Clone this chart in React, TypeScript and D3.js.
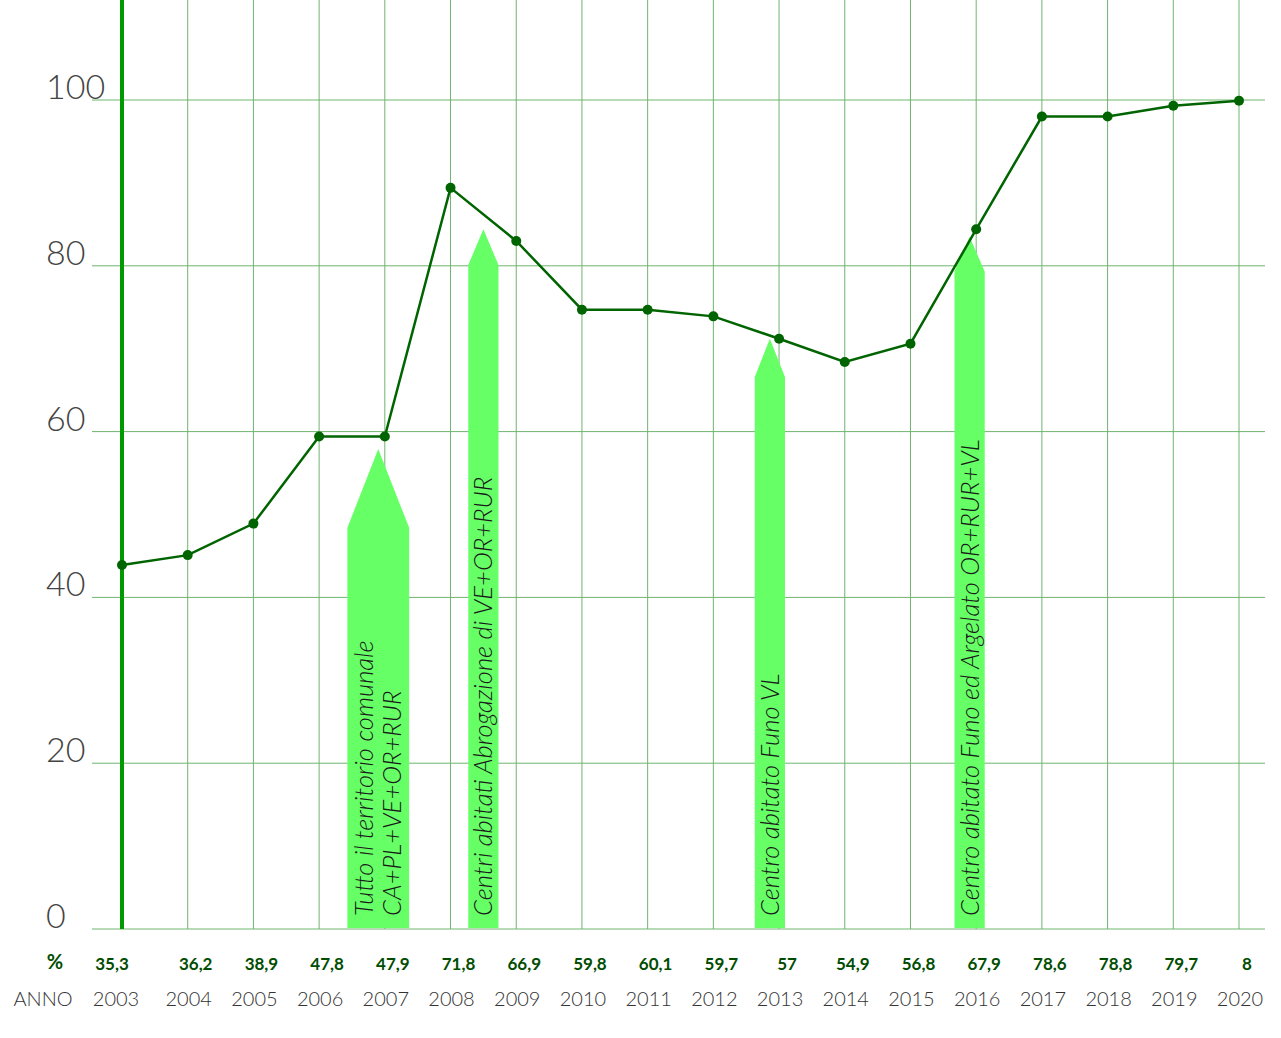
import { useMemo } from "react";
import * as d3 from "d3";

const WIDTH = 1281;
const HEIGHT = 1038;
const MARGIN = { top: 0, left: 122, right: 42, bottom: 109 };

const YEARS = [2003, 2004, 2005, 2006, 2007, 2008, 2009, 2010, 2011, 2012, 2013, 2014, 2015, 2016, 2017, 2018, 2019, 2020];
// percentages printed in the table row
const VALUE_LABELS = ["35,3", "36,2", "38,9", "47,8", "47,9", "71,8", "66,9", "59,8", "60,1", "59,7", "57", "54,9", "56,8", "67,9", "78,6", "78,8", "79,7", "8"];
// plotted positions of the line
const PLOTTED = [43.9, 45.1, 48.9, 59.4, 59.4, 89.4, 83.0, 74.7, 74.7, 73.9, 71.2, 68.4, 70.6, 84.4, 98.0, 98.0, 99.3, 99.9];
const Y_TICKS = [0, 20, 40, 60, 80, 100];

// arrows: position in years, half width in years, shaft top and tip in axis units
const ARROWS = [
  { year: 2006.9, half: 0.47, shaft: 48.4, tip: 57.9, lines: ["Tutto il territorio comunale", "CA+PL+VE+OR+RUR"] },
  { year: 2008.5, half: 0.23, shaft: 80.1, tip: 84.4, lines: ["Centri abitati Abrogazione di VE+OR+RUR"] },
  { year: 2012.86, half: 0.23, shaft: 66.6, tip: 71.2, lines: ["Centro abitato Funo VL"] },
  { year: 2015.9, half: 0.23, shaft: 79.3, tip: 83.5, lines: ["Centro abitato Funo ed Argelato OR+RUR+VL"] },
];

const GRID = "#6fb46f";
const LINE = "#006400";
const ARROW_FILL = "#66ff66";
const FONT = "Lato, 'Open Sans', sans-serif";

export default function App() {
  const plotBottom = HEIGHT - MARGIN.bottom;

  const x = useMemo(
    () => d3.scaleLinear().domain([2003, 2020]).range([MARGIN.left, 1239]),
    []
  );
  const y = useMemo(() => d3.scaleLinear().domain([0, 100]).range([plotBottom, 100]), [plotBottom]);

  const linePath = d3
    .line<number>()
    .x((_, i) => x(YEARS[i]))
    .y((d) => y(d))(PLOTTED);

  return (
    <div style={{ position: "absolute", left: 0, top: 0 }}>
      <svg width={WIDTH} height={HEIGHT} style={{ display: "block", background: "#fff" }}>
        {/* vertical grid */}
        {YEARS.slice(1).map((yr) => (
          <line key={yr} x1={x(yr)} x2={x(yr)} y1={0} y2={plotBottom} stroke={GRID} strokeWidth={1} />
        ))}
        {/* horizontal grid */}
        {Y_TICKS.map((t) => (
          <line key={t} x1={92} x2={1265} y1={y(t)} y2={y(t)} stroke={GRID} strokeWidth={1} />
        ))}
        {/* y labels */}
        {Y_TICKS.map((t) => (
          <text key={t} x={46} y={y(t) - 1} fontFamily={FONT} fontWeight={300} fontSize={34} fill="#444">
            {t}
          </text>
        ))}
        {/* arrows */}
        {ARROWS.map((a, i) => {
          const cx = x(a.year);
          const hw = x(a.year + a.half) - cx;
          const pts: [number, number][] = [
            [cx - hw, plotBottom - 1],
            [cx - hw, y(a.shaft)],
            [cx, y(a.tip)],
            [cx + hw, y(a.shaft)],
            [cx + hw, plotBottom - 1],
          ];
          const n = a.lines.length;
          return (
            <g key={i}>
              <polygon points={pts.map((p) => p.join(",")).join(" ")} fill={ARROW_FILL} />
              {a.lines.map((l, j) => (
                <text
                  key={j}
                  transform={`translate(${cx + 9 + (j - (n - 1) / 2) * 28},${plotBottom - 13}) rotate(-90)`}
                  fontFamily={FONT}
                  fontWeight={300}
                  fontStyle="italic"
                  fontSize={25.6}
                  fill="#1a1a1a"
                >
                  {l}
                </text>
              ))}
            </g>
          );
        })}
        {/* main axis */}
        <line x1={x(2003)} x2={x(2003)} y1={0} y2={plotBottom} stroke="#009900" strokeWidth={4} />
        {/* data line */}
        <path d={linePath ?? ""} fill="none" stroke={LINE} strokeWidth={2.5} />
        {PLOTTED.map((v, i) => (
          <circle key={i} cx={x(YEARS[i])} cy={y(v)} r={5} fill={LINE} />
        ))}
        {/* bottom table */}
        <text x={55} y={969} textAnchor="middle" fontFamily={FONT} fontWeight={700} fontSize={20} fill="#004d00">
          %
        </text>
        {VALUE_LABELS.map((l, i) => (
          <text
            key={i}
            x={x(YEARS[i]) + (i === 0 ? -10 : 8)}
            y={970}
            textAnchor="middle"
            fontFamily={FONT}
            fontWeight={700}
            fontSize={17}
            fill="#004d00"
          >
            {l}
          </text>
        ))}
        <text x={43} y={1006} textAnchor="middle" fontFamily={FONT} fontWeight={300} fontSize={20} fill="#333">
          ANNO
        </text>
        {YEARS.map((yr) => (
          <text
            key={yr}
            x={x(yr) + (yr === 2003 ? -6 : 1)}
            y={1006}
            textAnchor="middle"
            fontFamily={FONT}
            fontWeight={300}
            fontSize={20}
            fill="#333"
          >
            {yr}
          </text>
        ))}
      </svg>
    </div>
  );
}
